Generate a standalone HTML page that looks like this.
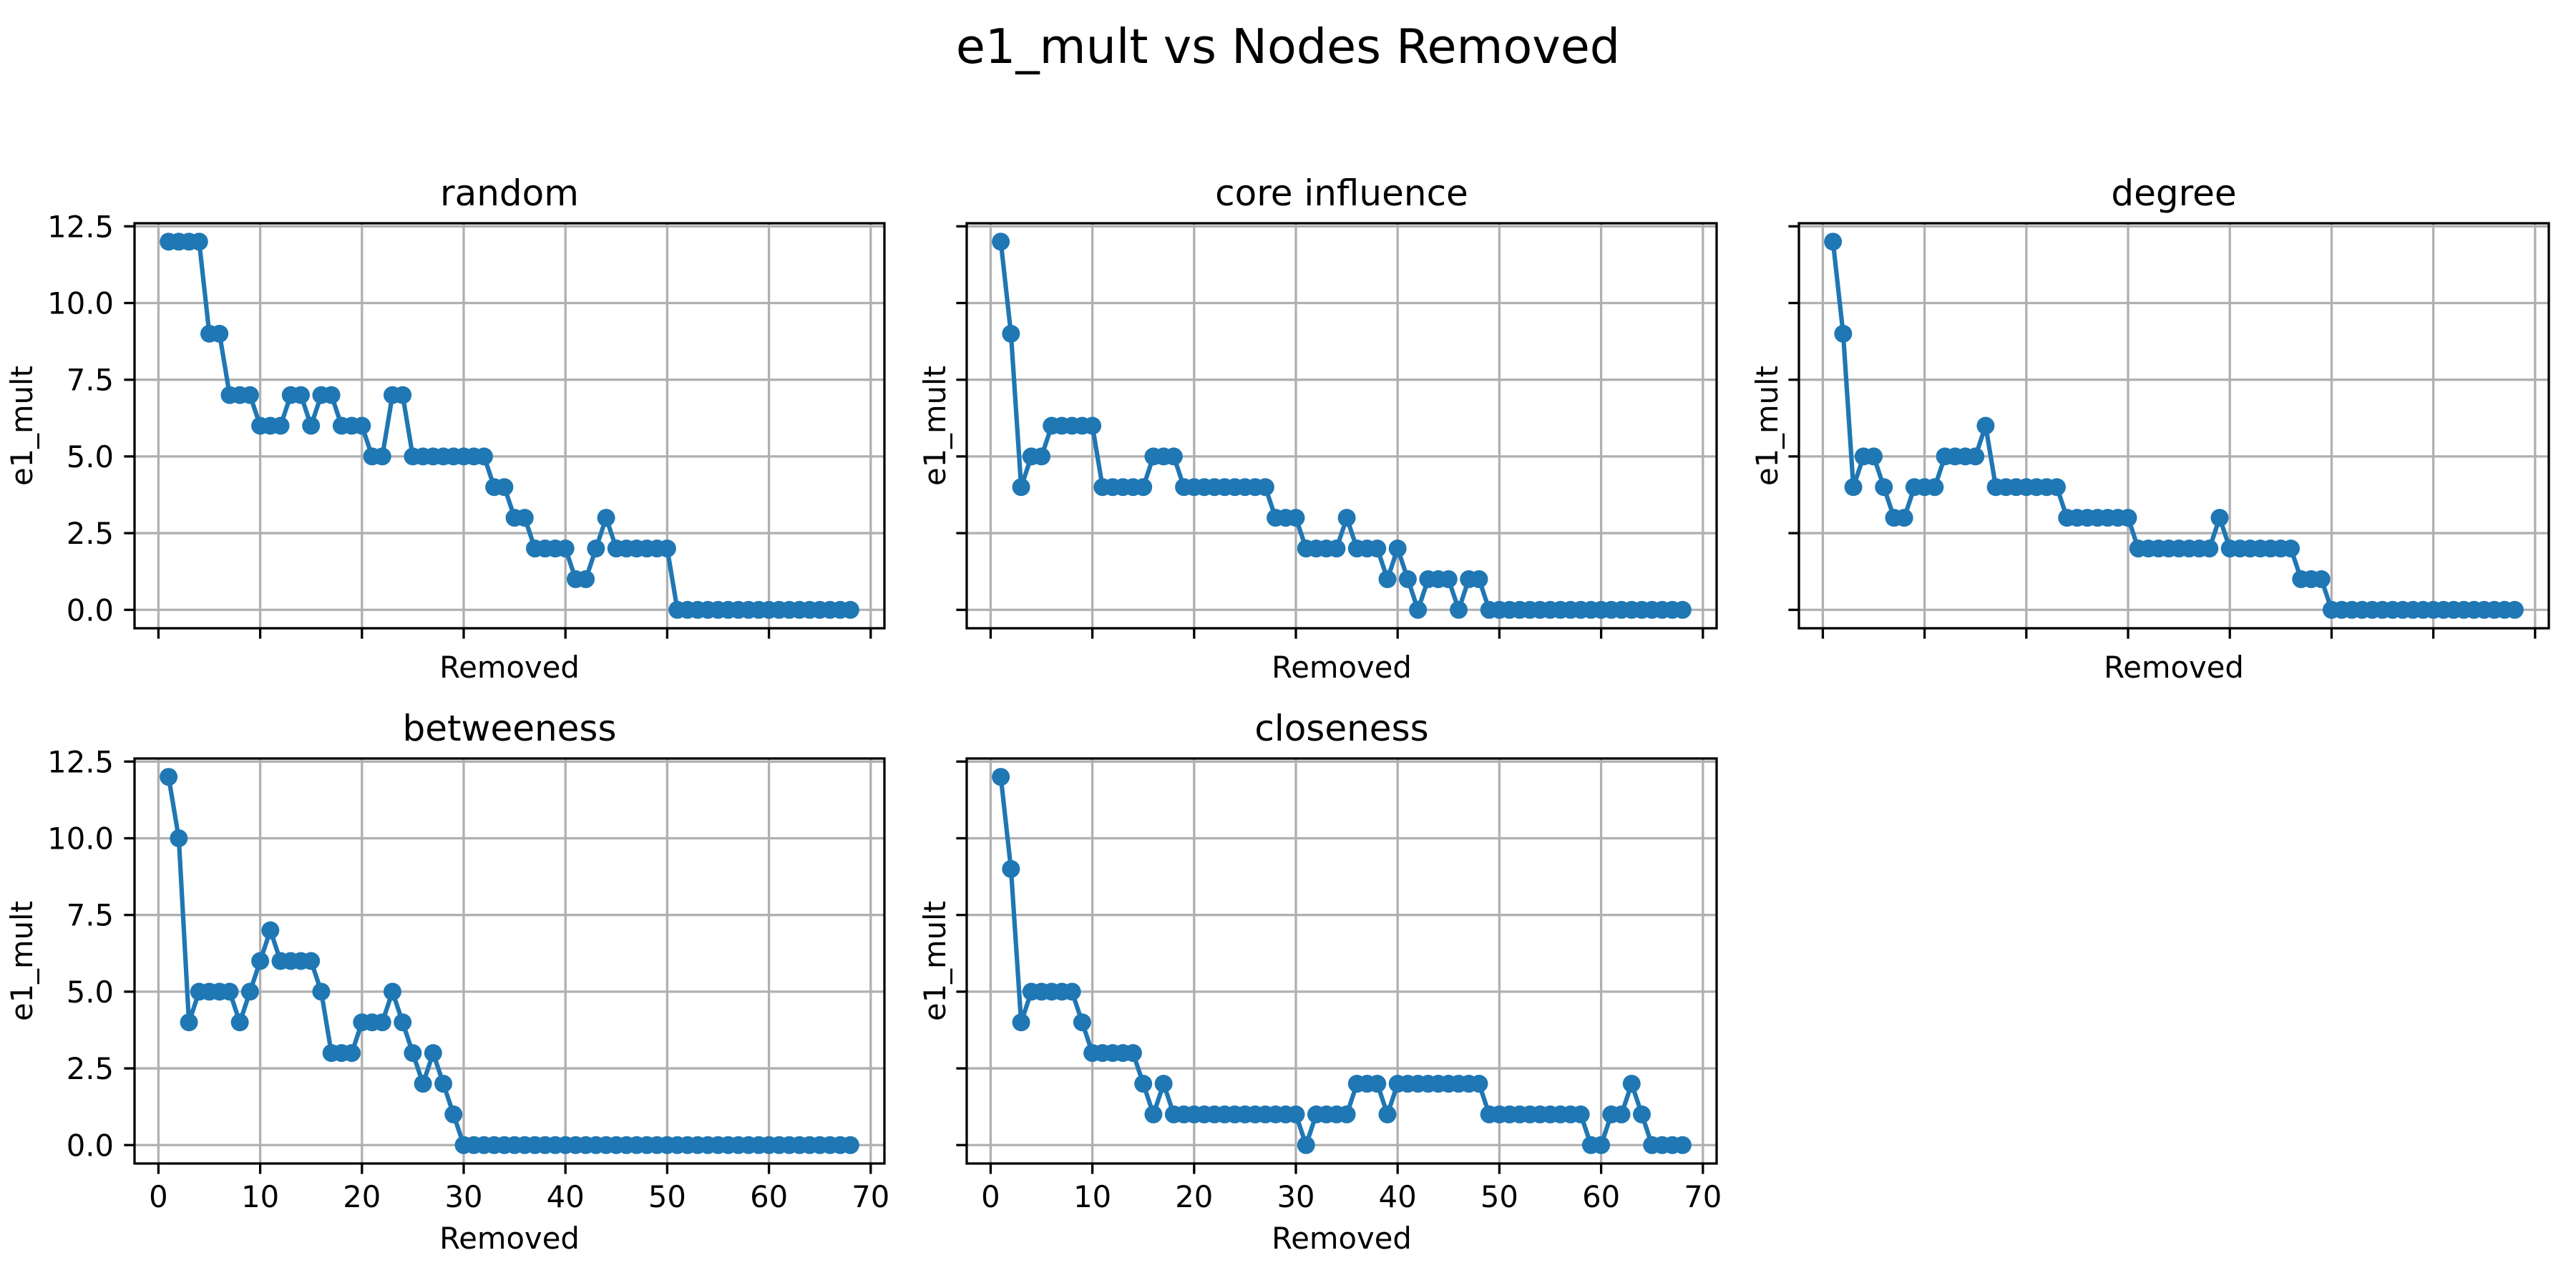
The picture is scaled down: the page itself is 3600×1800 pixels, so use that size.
<!DOCTYPE html>
<html><head><meta charset="utf-8">
<style>
html,body{margin:0;padding:0;background:#fff;}
svg{display:block;font-family:"DejaVu Sans","Liberation Sans",sans-serif;}
</style></head>
<body>
<svg id="fig" width="3600" height="1800" viewBox="0 0 3600 1800" xmlns="http://www.w3.org/2000/svg">
<rect width="3600" height="1800" fill="#fff"/>
<text x="1800" y="88" font-size="66.7" text-anchor="middle">e1_mult vs Nodes Removed</text>
</svg>
<script>
const panelTitles = ["random","core influence","degree","betweeness","closeness"];
const randomVals = [12,12,12,12,9,9,7,7,7,6,6,6,7,7,6,7,7,6,6,6,5,5,7,7,5,5,5,5,5,5,5,5,4,4,3,3,2,2,2,2,1,1,2,3,2,2,2,2,2,2,0,0,0,0,0,0,0,0,0,0,0,0,0,0,0,0,0,0];
const coreVals = [12,9,4,5,5,6,6,6,6,6,4,4,4,4,4,5,5,5,4,4,4,4,4,4,4,4,4,3,3,3,2,2,2,2,3,2,2,2,1,2,1,0,1,1,1,0,1,1,0,0,0,0,0,0,0,0,0,0,0,0,0,0,0,0,0,0,0,0];
const degreeVals = [12,9,4,5,5,4,3,3,4,4,4,5,5,5,5,6,4,4,4,4,4,4,4,3,3,3,3,3,3,3,2,2,2,2,2,2,2,2,3,2,2,2,2,2,2,2,1,1,1,0,0,0,0,0,0,0,0,0,0,0,0,0,0,0,0,0,0,0];
const betweenVals = [12,10,4,5,5,5,5,4,5,6,7,6,6,6,6,5,3,3,3,4,4,4,5,4,3,2,3,2,1,0,0,0,0,0,0,0,0,0,0,0,0,0,0,0,0,0,0,0,0,0,0,0,0,0,0,0,0,0,0,0,0,0,0,0,0,0,0,0];
const closeVals = [12,9,4,5,5,5,5,5,4,3,3,3,3,3,2,1,2,1,1,1,1,1,1,1,1,1,1,1,1,1,0,1,1,1,1,2,2,2,1,2,2,2,2,2,2,2,2,2,1,1,1,1,1,1,1,1,1,1,0,0,1,1,2,1,0,0,0,0];
const seriesList = [randomVals, coreVals, degreeVals, betweenVals, closeVals];
const xTicks = [0,10,20,30,40,50,60,70];
const yTicks = [0,2.5,5,7.5,10,12.5];
const yTickLabels = ["0.0","2.5","5.0","7.5","10.0","12.5"];

const NS = "http://www.w3.org/2000/svg";
const svg = document.getElementById("fig");
const W = 1048, H = 566;
const lefts = [188, 1351, 2514], tops = [312, 1060];
const XMIN = -2.35, XMAX = 71.35, YMIN = -0.6, YMAX = 12.6;

function mk(tag, attrs, parent){
  const e = document.createElementNS(NS, tag);
  for (const k in attrs) e.setAttribute(k, attrs[k]);
  (parent || svg).appendChild(e);
  return e;
}

seriesList.forEach((vals, p) => {
  const row = p < 3 ? 0 : 1, col = p % 3;
  const L = lefts[col], T = tops[row];
  const sx = v => L + (v - XMIN) / (XMAX - XMIN) * W;
  const sy = v => T + (YMAX - v) / (YMAX - YMIN) * H;
  const g = mk("g", {});
  
  
  xTicks.forEach(t => {
    const l = mk("line", {x1:sx(t), x2:sx(t), y1:T, y2:T+H, stroke:"#b0b0b0", "stroke-width":3.3}, g);
    
    
  });
  yTicks.forEach(t => {
    const l = mk("line", {x1:L, x2:L+W, y1:sy(t), y2:sy(t), stroke:"#b0b0b0", "stroke-width":3.3}, g);
    
    
  });
  const pts = vals.map((v, i) => sx(i + 1) + "," + sy(v)).join(" ");
  const pl = mk("polyline", {points:pts, fill:"none", stroke:"#1f77b4", "stroke-width":6.25, "stroke-linejoin":"round"}, g);
  
  
  vals.forEach((v, i) => {
    const c = mk("circle", {cx:sx(i + 1), cy:sy(v), r:12.5, fill:"#1f77b4"}, g);
    
    
  });
  const fr = mk("rect", {x:L, y:T, width:W, height:H, fill:"none", stroke:"#000", "stroke-width":3.3}, g);
  
  
  xTicks.forEach(t => {
    const tk = mk("line", {x1:sx(t), x2:sx(t), y1:T+H, y2:T+H+14.6, stroke:"#000", "stroke-width":3.3}, g);
    
    
    if (row === 1) {
      const tx = mk("text", {x:sx(t), y:T+H+61, "font-size":41.7, "text-anchor":"middle"}, g);
      tx.textContent = t;
      
      
    }
  });
  yTicks.forEach((t, i) => {
    const tk = mk("line", {x1:L-14.6, x2:L, y1:sy(t), y2:sy(t), stroke:"#000", "stroke-width":3.3}, g);
    
    
    if (col === 0) {
      const tx = mk("text", {x:L-29, y:sy(t)+15, "font-size":41.7, "text-anchor":"end"}, g);
      tx.textContent = yTickLabels[i];
      
      
    }
  });
  const tt = mk("text", {x:L+W/2, y:T-25, "font-size":50, "text-anchor":"middle"}, g);
  tt.textContent = panelTitles[p];
  
  
  const xl = mk("text", {x:L+W/2, y:row === 0 ? 947 : 1745, "font-size":41.7, "text-anchor":"middle"}, g);
  xl.textContent = "Removed";
  
  
  const ylx = col === 0 ? 45 : L - 30;
  const yl = mk("text", {x:ylx, y:T+H/2, "font-size":41.7, "text-anchor":"middle", transform:"rotate(-90 " + ylx + " " + (T+H/2) + ")"}, g);
  yl.textContent = "e1_mult";
  
  
});
</script>
</body></html>
